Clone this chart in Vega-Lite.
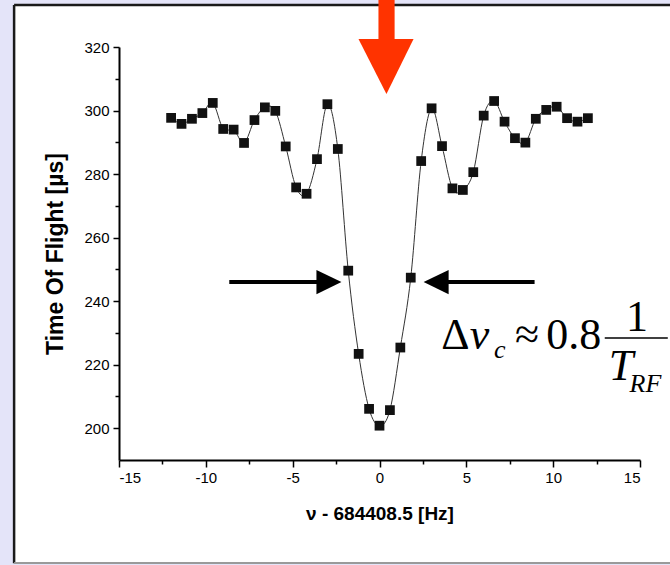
{
  "$schema": "https://vega.github.io/schema/vega-lite/v6.json",
  "width": 521,
  "height": 413,
  "autosize": {"type": "none"},
  "padding": {"left": 119, "top": 47, "right": 30, "bottom": 105},
  "background": "#e4e4f9",
  "config": {
    "view": {"stroke": null},
    "axis": {
      "grid": false,
      "domainColor": "#000",
      "domainWidth": 2,
      "tickColor": "#000",
      "tickWidth": 1.5,
      "labelFont": "'Liberation Sans Narrow', 'Liberation Sans', Arial, sans-serif",
      "labelFontSize": 15,
      "labelColor": "#000",
      "titleFont": "'Liberation Sans', Arial, sans-serif",
      "titleFontWeight": "bold",
      "titleColor": "#000"
    }
  },
  "datasets": {
    "tof": [
      {"x": -12.0, "y": 297.7}, {"x": -11.4, "y": 295.8}, {"x": -10.8, "y": 297.4},
      {"x": -10.2, "y": 299.2}, {"x": -9.6, "y": 302.4}, {"x": -9.0, "y": 294.2},
      {"x": -8.4, "y": 294.0}, {"x": -7.8, "y": 289.8}, {"x": -7.2, "y": 297.0},
      {"x": -6.6, "y": 301.0}, {"x": -6.0, "y": 299.9}, {"x": -5.4, "y": 288.7},
      {"x": -4.8, "y": 275.8}, {"x": -4.2, "y": 273.8}, {"x": -3.6, "y": 284.7},
      {"x": -3.0, "y": 302.0}, {"x": -2.4, "y": 287.9}, {"x": -1.8, "y": 249.6},
      {"x": -1.2, "y": 223.4}, {"x": -0.6, "y": 206.1}, {"x": 0.0, "y": 200.8},
      {"x": 0.6, "y": 205.7}, {"x": 1.2, "y": 225.4}, {"x": 1.8, "y": 247.4},
      {"x": 2.4, "y": 284.1}, {"x": 3.0, "y": 300.7}, {"x": 3.6, "y": 288.8},
      {"x": 4.2, "y": 275.5}, {"x": 4.8, "y": 275.0}, {"x": 5.4, "y": 280.6},
      {"x": 6.0, "y": 298.4}, {"x": 6.6, "y": 303.0}, {"x": 7.2, "y": 296.5},
      {"x": 7.8, "y": 291.3}, {"x": 8.4, "y": 289.9}, {"x": 9.0, "y": 297.4},
      {"x": 9.6, "y": 300.2}, {"x": 10.2, "y": 301.2}, {"x": 10.8, "y": 297.6},
      {"x": 11.4, "y": 296.5}, {"x": 12.0, "y": 297.6}
    ],
    "box": [{"x": -21.04, "x2": 17.5, "y": 333.2, "y2": 157.5}],
    "border": [
      {"x": -21.04, "x2": -21.04, "y": 333.2, "y2": 157.5},
      {"x": -21.04, "x2": 17.5, "y": 333.2, "y2": 333.2}
    ],
    "bottomBorder": [{"x": -21.04, "x2": 17.5, "y": 157.6}],
    "redShaft": [{"x": -0.06, "x2": 0.87, "y": 336, "y2": 322.3}],
    "redHead": [
      {"x": -1.21, "y": 322.5, "y2": 322.5},
      {"x": 0.40, "y": 322.5, "y2": 305.2},
      {"x": 1.96, "y": 322.5, "y2": 322.5}
    ],
    "shafts": [
      {"x": -8.65, "x2": -3.46, "y": 246.0},
      {"x": 3.8, "x2": 8.93, "y": 246.0}
    ],
    "heads": [
      {"id": "L", "x": -3.63, "y": 249.8, "y2": 242.2},
      {"id": "L", "x": -2.19, "y": 246.0, "y2": 246.0},
      {"id": "R", "x": 2.54, "y": 246.0, "y2": 246.0},
      {"id": "R", "x": 3.98, "y": 249.8, "y2": 242.2}
    ],
    "formulaRegular": [
      {"x": 3.56, "y": 224.9, "t": "Δ"},
      {"x": 7.8, "y": 224.9, "t": "≈"},
      {"x": 9.6, "y": 224.9, "t": "0.8"},
      {"x": 14.2, "y": 230.6, "t": "1"}
    ],
    "formulaItalic": [
      {"x": 5.2, "y": 224.9, "t": "ν"},
      {"x": 13.2, "y": 215.2, "t": "T"}
    ],
    "formulaSub": [
      {"x": 6.6, "y": 222.0, "t": "c"},
      {"x": 14.4, "y": 211.4, "t": "RF"}
    ],
    "bar": [{"x": 12.97, "x2": 16.6, "y": 228.4}]
  },
  "encoding": {
    "x": {
      "field": "x",
      "type": "quantitative",
      "scale": {"domain": [-15, 15], "nice": false, "zero": false},
      "axis": {
        "zindex": 2,
        "title": "ν - 684408.5 [Hz]",
        "titleFontSize": 19,
        "values": [-15, -12.5, -10, -7.5, -5, -2.5, 0, 2.5, 5, 7.5, 10, 12.5, 15],
        "labelExpr": "datum.value % 5 === 0 ? replace(datum.label, '−', '-') : ''",
        "tickSize": {"condition": {"test": "datum.value % 5 === 0", "value": 7}, "value": 4},
        "labelPadding": 3,
        "titlePadding": 19
      }
    },
    "y": {
      "field": "y",
      "type": "quantitative",
      "scale": {"domain": [190, 320], "nice": false, "zero": false},
      "axis": {
        "zindex": 2,
        "title": "Time Of Flight [µs]",
        "titleFontSize": 23,
        "values": [200, 210, 220, 230, 240, 250, 260, 270, 280, 290, 300, 310, 320],
        "labelExpr": "datum.value % 20 === 0 ? datum.label : ''",
        "tickSize": {"condition": {"test": "datum.value % 20 === 0", "value": 6}, "value": 4},
        "labelPadding": 4,
        "titlePadding": 16
      }
    }
  },
  "layer": [
    {
      "data": {"name": "box"},
      "mark": {"type": "rect", "fill": "#ffffff", "stroke": null},
      "encoding": {"x2": {"field": "x2"}, "y2": {"field": "y2"}}
    },
    {
      "data": {"name": "border"},
      "mark": {"type": "rule", "color": "#1a1a1a", "strokeWidth": 2.5},
      "encoding": {"x2": {"field": "x2"}, "y2": {"field": "y2"}}
    },
    {
      "data": {"name": "bottomBorder"},
      "mark": {"type": "rule", "color": "#9a9a9a", "strokeWidth": 2},
      "encoding": {"x2": {"field": "x2"}}
    },
    {
      "data": {"name": "redShaft"},
      "mark": {"type": "rect", "fill": "#ff3300"},
      "encoding": {"x2": {"field": "x2"}, "y2": {"field": "y2"}}
    },
    {
      "data": {"name": "redHead"},
      "mark": {"type": "area", "fill": "#ff3300", "interpolate": "linear"},
      "encoding": {"y2": {"field": "y2"}}
    },
    {
      "data": {"name": "shafts"},
      "mark": {"type": "rule", "color": "#000", "strokeWidth": 4},
      "encoding": {"x2": {"field": "x2"}}
    },
    {
      "data": {"name": "heads"},
      "mark": {"type": "area", "fill": "#000", "interpolate": "linear"},
      "encoding": {"y2": {"field": "y2"}, "detail": {"field": "id"}}
    },
    {
      "data": {"name": "tof"},
      "mark": {"type": "line", "color": "#333", "strokeWidth": 1, "interpolate": "cardinal"}
    },
    {
      "data": {"name": "tof"},
      "mark": {"type": "square", "size": 95, "color": "#111", "opacity": 1, "filled": true}
    },
    {
      "data": {"name": "formulaRegular"},
      "mark": {"type": "text", "font": "'Liberation Serif', 'Times New Roman', serif", "fontSize": 44, "align": "left", "baseline": "alphabetic", "color": "#000"},
      "encoding": {"text": {"field": "t"}}
    },
    {
      "data": {"name": "formulaItalic"},
      "mark": {"type": "text", "font": "'Liberation Serif', 'Times New Roman', serif", "fontSize": 44, "fontStyle": "italic", "align": "left", "baseline": "alphabetic", "color": "#000"},
      "encoding": {"text": {"field": "t"}}
    },
    {
      "data": {"name": "formulaSub"},
      "mark": {"type": "text", "font": "'Liberation Serif', 'Times New Roman', serif", "fontSize": 26, "fontStyle": "italic", "align": "left", "baseline": "alphabetic", "color": "#000"},
      "encoding": {"text": {"field": "t"}}
    },
    {
      "data": {"name": "bar"},
      "mark": {"type": "rule", "color": "#000", "strokeWidth": 1.5},
      "encoding": {"x2": {"field": "x2"}}
    }
  ]
}
